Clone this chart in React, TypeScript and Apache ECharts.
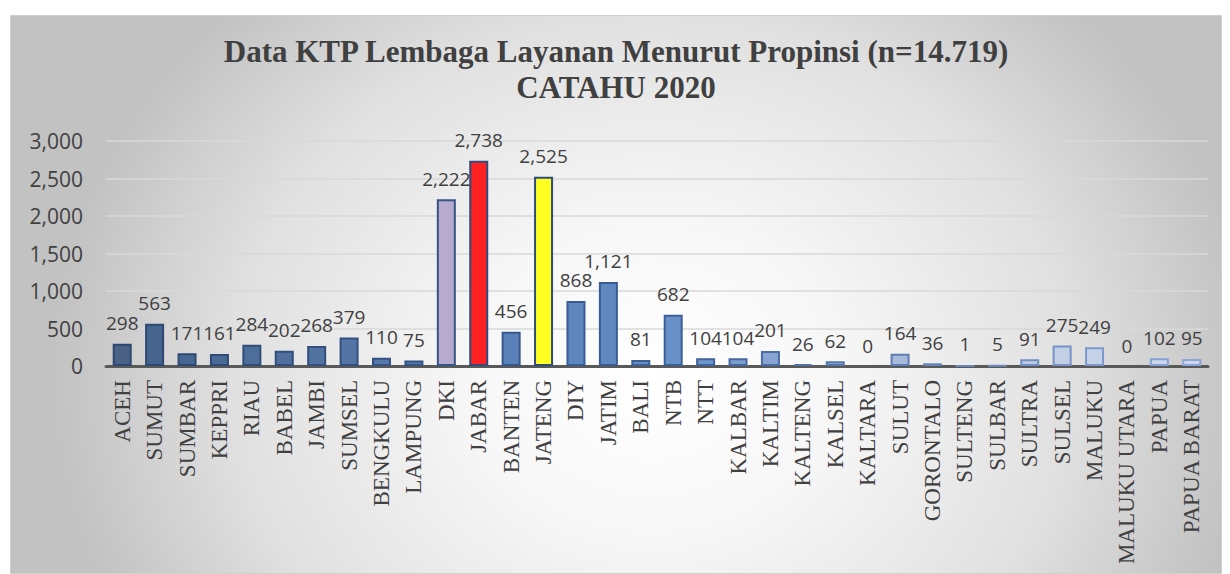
import React, { useEffect, useRef } from "react";
import * as echarts from "echarts";

const provinces = [
  "ACEH", "SUMUT", "SUMBAR", "KEPPRI", "RIAU", "BABEL", "JAMBI", "SUMSEL", "BENGKULU", "LAMPUNG",
  "DKI", "JABAR", "BANTEN", "JATENG", "DIY", "JATIM", "BALI", "NTB", "NTT", "KALBAR",
  "KALTIM", "KALTENG", "KALSEL", "KALTARA", "SULUT", "GORONTALO", "SULTENG", "SULBAR", "SULTRA", "SULSEL",
  "MALUKU", "MALUKU UTARA", "PAPUA", "PAPUA BARAT",
];

const cases = [
  298, 563, 171, 161, 284, 202, 268, 379, 110, 75,
  2222, 2738, 456, 2525, 868, 1121, 81, 682, 104, 104,
  201, 26, 62, 0, 164, 36, 1, 5, 91, 275,
  249, 0, 102, 95,
];

const yTicks = [0, 500, 1000, 1500, 2000, 2500, 3000];

const fillColors = [
  "#4A6286", "#46648E", "#486792", "#4A6A96", "#4D6D9A", "#506F9D", "#5272A0", "#5475A4", "#5678A8", "#587BAC",
  "#B8A9CF", "#FF2121", "#5A82B8", "#FFFF21", "#5E86BE", "#6089C1", "#648DC4", "#6891C7", "#6F96CA", "#7B9CCD",
  "#89A4D2", "#91AAD4", "#98AFD6", "#9FB5D9", "#A7BBDB", "#ADC0DE", "#B3C4E0", "#B8C8E2", "#BDCBE3", "#C2CFE5",
  "#C6D2E7", "#CAD5E8", "#CDD7E9", "#D0D9EB",
];

function hex(c: string) {
  return [1, 3, 5].map((i) => parseInt(c.slice(i, i + 2), 16));
}
function lerpColor(a: string, b: string, t: number) {
  const A = hex(a), B = hex(b);
  const r = A.map((v, i) => Math.round(v + (B[i] - v) * t));
  return "#" + r.map((v) => v.toString(16).padStart(2, "0")).join("");
}
function borderColor(i: number) {
  if (i <= 17) return lerpColor("#2C4770", "#3C5F98", i / 17);
  return lerpColor("#3C5F98", "#8AA5D8", (i - 17) / 16);
}

export default function App() {
  const ref = useRef<HTMLDivElement>(null);
  useEffect(() => {
    if (!ref.current) return;
    const chart = echarts.init(ref.current, undefined, { renderer: "svg" });
    chart.setOption({
      animation: false,
      backgroundColor: "transparent",
      title: {
        text: "Data KTP Lembaga Layanan Menurut Propinsi (n=14.719)\nCATAHU 2020",
        left: "center",
        top: 17,
        padding: [0, 0, 0, 16],
        textStyle: {
          fontFamily: "Liberation Serif",
          fontWeight: "bold",
          fontSize: 31,
          lineHeight: 36,
          color: "#404040",
        },
      },
      grid: { left: 95, right: 13, top: 125, bottom: 207, containLabel: false },
      xAxis: {
        type: "category",
        data: provinces,
        axisLine: { lineStyle: { color: "#595959", width: 3 } },
        axisTick: { show: false },
        axisLabel: {
          interval: 0,
          rotate: 90,
          margin: 14,
          fontFamily: "Liberation Serif",
          fontSize: 23,
          color: "#404040",
        },
      },
      yAxis: {
        type: "value",
        min: yTicks[0],
        max: yTicks[yTicks.length - 1],
        interval: 500,
        axisLine: { show: false },
        axisTick: { show: false },
        splitLine: { lineStyle: { color: "#D9D9D9", width: 1.5 } },
        axisLabel: {
          margin: 23,
          fontFamily: "Open Sans",
          fontSize: 21,
          color: "#404040",
          formatter: (v: number) => v.toLocaleString("en-US"),
        },
      },
      series: [
        {
          type: "bar",
          barWidth: 19,
          data: cases.map((v, i) => ({
            value: v,
            itemStyle: {
              color: fillColors[i],
              borderColor: i === 11 || i === 13 ? "#2F4B7C" : borderColor(i),
              borderWidth: v === 0 ? 0 : 2,
            },
          })),
          label: {
            show: true,
            position: "top",
            distance: 11,
            fontFamily: "Open Sans",
            fontSize: 19,
            color: "#404040",
            formatter: (p: any) => Number(p.value).toLocaleString("en-US"),
          },
        },
      ],
    });
    return () => chart.dispose();
  }, []);
  return (
    <div
      style={{
        position: "absolute",
        left: 10,
        top: 15,
        width: 1212,
        height: 559,
        boxSizing: "border-box",
        border: "1px solid #D0D0D0",
        background:
          "radial-gradient(ellipse 600px 520px at 53% 65%, #ffffff 0%, #f7f7f7 30%, #e0e0e0 70%, #c2c2c2 100%)",
      }}
    >
      <div ref={ref} style={{ width: "100%", height: "100%" }} />
    </div>
  );
}
